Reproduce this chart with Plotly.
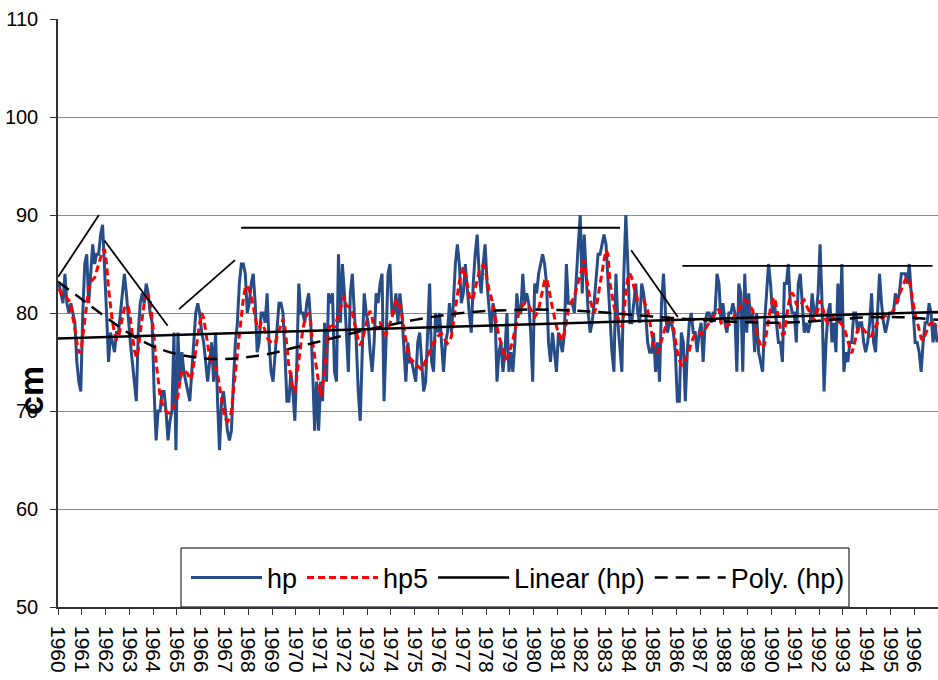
import plotly.graph_objects as go

# ---------------- data ----------------
# monthly hp values, Jan 1960 .. Dec 1996
hp = [
    83, 82, 81, 84, 81, 80, 81, 80, 79, 75,
    73, 72, 80, 85, 86, 81, 84, 87, 85, 86,
    86, 88, 89, 85, 80, 75, 78, 77, 76, 78,
    78, 80, 82, 84, 82, 79, 77, 75, 73, 71,
    78, 81, 82, 81, 83, 82, 80, 79, 72, 67,
    70, 70, 72, 72, 70, 67, 69,
    70, 78, 66,
    78, 73, 76, 74, 73, 72, 71, 74, 77, 80,
    81, 80, 78, 77, 75, 73, 75, 77, 73, 78,
    71, 66, 71, 72, 70, 68, 67, 68, 73, 77,
    79, 83, 85, 85, 84, 80, 81, 83, 84, 81,
    76, 77, 80, 80, 79, 82, 77, 74, 73, 76,
    79, 81,
    81, 80, 76, 71, 71, 74, 72, 69,
    75, 83, 80, 80, 79, 81, 82, 79, 74, 68,
    73, 68, 73, 71, 79, 73, 82, 81, 82, 74,
    73, 86, 79, 85, 82, 78, 74, 82, 84, 80,
    77, 72, 69, 76, 82, 80, 79, 76, 74, 77,
    82, 81, 83, 84, 71, 77, 84, 85,
    80, 80,
    82, 79, 82, 80, 76, 73, 77, 75, 75, 74,
    73, 77, 78, 75, 72, 73, 78, 83, 75, 74,
    80, 78, 80, 77, 74, 77, 78, 81, 78, 81,
    85, 87, 85, 81, 82, 85, 82, 80, 78, 83,
    86, 88, 84, 82, 85, 87, 83, 80, 78, 81,
    80, 73, 76,
    77, 74, 76, 80, 74, 76, 74,
    77, 82, 80, 80, 84, 81, 82, 81, 78, 73,
    83, 82, 84, 85, 86, 85, 83, 77, 75, 78,
    76, 74, 78, 77, 76, 78, 85, 81, 81, 81,
    80, 84, 87, 90, 82, 88, 84, 80, 78, 79,
    81, 84, 86, 86, 87, 88, 87, 83,
    80, 76,
    74, 84, 79, 76, 74, 84, 90, 85, 79, 79,
    81, 83, 80, 79, 83, 82, 80, 77, 76, 76,
    78, 74, 77, 73, 81, 84, 80, 78, 79, 79,
    78, 76, 71, 71, 78, 77, 71, 76, 79, 80,
    78, 78, 76, 78, 79, 75, 79, 80, 80, 79,
    80, 80, 84, 83,
    79, 81, 79, 78, 80, 80,
    81, 80, 74, 83, 82, 74, 84, 78, 82, 79,
    80, 76, 80, 76, 75, 74, 79, 82, 85, 83,
    80, 81, 79, 77, 77, 75, 83, 83, 85, 81,
    80, 80, 77, 83, 84, 81, 78, 79, 78, 79,
    82, 80, 80, 82, 87, 81, 72, 77, 80, 81,
    77, 79, 76, 83, 79, 85, 74, 76, 75, 77,
    77, 80, 80, 78, 79, 79, 77, 76, 77, 79,
    82, 77, 76, 80, 84, 81, 79, 78, 79, 80,
    80, 80, 82, 81, 82, 84, 84, 84, 83, 85,
    82, 80, 77, 77, 76, 74, 77, 79, 79, 81,
    80, 77, 79, 77,
]

# hp5 (5-point moving average line)
hp5 = [
    82.5, 82, 82, 81.7, 81.5, 81.3, 80.8, 79.5, 78.5, 77,
    76, 76, 77.5, 79.5, 81, 82.5, 83.2, 83.4, 83.6, 84.3,
    85, 85.8, 86.3, 86.5, 85, 82.5, 80.5, 79, 78, 77.3,
    77.5, 78.5, 79.8, 80.5, 80.8, 80.6, 79.5, 77.8, 76.2, 75.5,
    76.2, 78, 79.8, 81, 81.6, 81.8, 81.3, 79.5, 77.5, 75,
    73, 71.5, 70.8, 70.3, 70, 69.8, 69.8,
    70, 70.5, 71,
    71.5, 73, 74, 74.2, 74, 73.8, 73.2, 73.5, 74.8, 76,
    77.5, 79, 80, 79.5, 78, 76.5, 75.5, 75, 74.7, 74.4,
    73.8, 72.5, 71.2, 70, 69.2, 68.9, 69.2, 70, 72, 74,
    76, 78, 80, 81.5, 82.6, 82.8, 82.3, 81.7, 80.7, 79.6,
    78.5, 78.5, 79, 78.8, 78, 77.5, 77.2, 77, 76.9, 76.9,
    77.5, 78,
    78.6, 79.4, 78.6, 76.5, 74.5, 73.5, 72, 72,
    73.5, 75.5, 77, 78.3, 79.3, 79.8, 80, 79, 77, 75.5,
    74.5, 72.5, 71.5, 72.5, 74.5, 76.5, 78, 79, 78.8, 78.5,
    79.2, 79.8, 80.4, 81, 81.7, 80.8, 80.6, 80.5, 80, 79,
    78, 77.2, 76.7, 77.2, 78, 79, 79.8, 80.2, 79.5, 78.3,
    78.5, 79, 79, 78.5, 78, 77.8, 78.3, 79,
    79.5, 80.5,
    81.3, 81.3, 80.5, 79.8, 78.5, 77.2, 76, 75.4, 75.2, 75,
    74.9, 74.6, 74.4, 74.2, 74.7, 75.2, 75.7, 76.1, 76.6, 77,
    77.2, 77.6, 77.8, 77.9, 77.5, 77.2, 76.9, 77.2, 77.6, 79,
    80.5, 82, 83.2, 84, 84.7, 84, 83, 81.8, 81.3, 81.5,
    82.5, 83.4, 84.2, 84.6, 84.9, 84.5, 83.5, 82.3, 81.7, 80.6,
    79.5, 78.3, 77.6,
    77, 76, 75.3, 75.4, 75.9, 76.5, 77.3,
    78.3, 79.3, 80, 80.4, 80.8, 81, 81, 80.8, 80.3, 80,
    79.6, 79.9, 80.4, 81.3, 82.2, 83.3, 83.5, 82.7, 81.5, 80.5,
    79.3, 78.6, 78, 77.5, 77.2, 78, 79.3, 80.3, 80.9, 81.3,
    81.7, 82.4, 83.2, 84, 84.8, 85.4, 83.8, 82.5, 81.3, 80.6,
    80, 80.5, 81.8, 83, 84.4, 85.4, 86.4, 86,
    83, 81.7,
    80.7, 80, 79.4, 79, 78.6, 80, 82, 83.6, 84, 83.6,
    82.7, 82, 81.3, 81.3, 81.3, 81.3, 80.8, 80.3, 79.2, 78,
    76.8, 76.2, 75.9, 76.5, 77.2, 78, 78.6, 79, 79.6, 79.8,
    78.5, 77, 76, 75.2, 74.7, 74.7, 75.2, 75.7, 76.2, 77,
    77.5, 77.9, 78, 78, 77.8, 78, 78.3, 78.7, 79, 79.3,
    79.5, 80, 80.2, 80.4,
    79, 78.6, 78.6, 78.8, 78.8, 79,
    79.5, 79.8, 80, 80.3, 80.6, 81, 81.3, 81.2, 81, 80.6,
    80.3, 79.2, 78, 77.3, 76.7, 76.4, 76.8, 78, 79.3, 80.5,
    81.3, 81.6, 80.6, 79.4, 78.4, 77.8, 77.9, 79.5, 81, 82,
    82, 81.7, 80.9, 80.6, 80.8, 81, 81.3, 80.8, 80.3, 80,
    79.6, 79.3, 79.8, 80.4, 81.3, 80.8, 80, 79.2, 79, 79.3,
    79.6, 79.5, 79.3, 79.3, 79, 78.8, 78.6, 78, 77.2, 76.4,
    75.9, 76.6, 77.5, 78.4, 78.6, 78.6, 78.3, 78, 77.8, 77.6,
    77.7, 78.2, 78.7, 79, 79.3, 79.5, 79.6, 79.7, 79.8, 79.9,
    80, 80.3, 80.6, 81.4, 81.9, 82.5, 83, 83.4, 83.6, 83.3,
    82.2, 81, 79.8, 79.1, 78.2, 77.4, 77.2, 77.8, 78.4, 78.8,
    79, 79, 78.8, 78.6,
]

start_year = 1960
year_ticks = list(range(1960, 1997))
tick_labels = [str(y) for y in year_ticks]

# linear trend (hp) end values
linear_x = [1960, 1997]
linear_y = [77.4, 80.1]

# polynomial trend (hp), values read at the start of each year
poly_x = list(range(1960, 1998))
poly_y = [83.2, 81.4, 79.6, 77.9, 76.6, 75.8, 75.4, 75.3, 75.5, 75.9,
          76.5, 77.1, 77.7, 78.3, 78.8, 79.3, 79.7, 80.0, 80.2, 80.3,
          80.35, 80.3, 80.2, 80.05, 79.85, 79.65, 79.45, 79.3, 79.15, 79.05,
          79.0, 79.05, 79.2, 79.4, 79.55, 79.6, 79.5, 79.3]

# hand-drawn guide segments (start/end in year, cm)
seg_x = [[1960.01, 1961.72], [1961.95, 1964.61], [1965.09, 1967.44],
         [1967.70, 1983.63], [1984.10, 1986.06], [1986.25, 1996.77]]
seg_y = [[83.7, 90.0], [87.4, 78.7], [80.4, 85.4],
         [88.7, 88.7], [86.4, 79.6], [84.8, 84.8]]

# ---------------- figure ----------------
x_hp = [start_year + (i + 0.5) / 12 for i in range(len(hp))]
x_hp5 = [start_year + (i + 0.5) / 12 for i in range(len(hp5))]

fig = go.Figure()
fig.add_trace(go.Scatter(x=x_hp, y=hp, mode="lines", name="hp",
                         line=dict(color="#264D87", width=3)))
fig.add_trace(go.Scatter(x=x_hp5, y=hp5, mode="lines", name="hp5",
                         line=dict(color="#FF0000", width=3, dash="7px,4px")))
fig.add_trace(go.Scatter(x=linear_x, y=linear_y, mode="lines", name="Linear (hp)",
                         line=dict(color="black", width=2.5)))
fig.add_trace(go.Scatter(x=poly_x, y=poly_y, mode="lines", name="Poly. (hp)",
                         line=dict(color="black", width=2.5, dash="13px,8px", shape="spline")))
for sx, sy in zip(seg_x, seg_y):
    fig.add_trace(go.Scatter(x=sx, y=sy, mode="lines", showlegend=False,
                             hoverinfo="skip", line=dict(color="black", width=1.8)))

fig.update_layout(
    width=938, height=680,
    margin=dict(l=58, r=0, t=19, b=73, autoexpand=False),
    paper_bgcolor="white", plot_bgcolor="white",
    font=dict(family="Liberation Sans, Arial, sans-serif", color="black"),
    showlegend=True,
    legend=dict(orientation="h", x=(186 - 58) / 880, xanchor="left",
                y=(607 - 578) / 588, yanchor="middle",
                font=dict(size=27), bgcolor="rgba(0,0,0,0)", borderwidth=0,
                itemwidth=71, traceorder="normal"),
    shapes=[dict(type="rect", xref="paper", yref="paper",
                 x0=(181 - 58) / 880, x1=(849 - 58) / 880,
                 y0=0, y1=(607 - 548) / 588,
                 line=dict(color="black", width=1), fillcolor="white", layer="below")],
    annotations=[dict(text="<b>cm</b>", xref="paper", yref="paper",
                      x=(31 - 58) / 880, y=(607 - 391) / 588, showarrow=False,
                      textangle=-90, font=dict(size=34, color="black"),
                      xanchor="center", yanchor="middle")],
)

fig.update_xaxes(range=[1960, 1997], tickmode="array", tickvals=year_ticks,
                 ticktext=tick_labels, tickangle=90, ticks="outside", ticklen=6,
                 tickcolor="#333333", showline=True, linecolor="#333333", linewidth=1.5,
                 showgrid=False, zeroline=False, automargin=False,
                 tickfont=dict(size=21, color="black"), ticklabelstandoff=7)
fig.update_yaxes(range=[50, 110], dtick=10, tick0=50, ticks="outside", ticklen=6,
                 tickcolor="#333333", showline=True, linecolor="#333333", linewidth=1.5,
                 showgrid=True, gridcolor="#8a8a8a", gridwidth=1, zeroline=False,
                 automargin=False, tickfont=dict(size=20, color="black"),
                 ticklabelstandoff=8)

fig.write_html("out.html")
